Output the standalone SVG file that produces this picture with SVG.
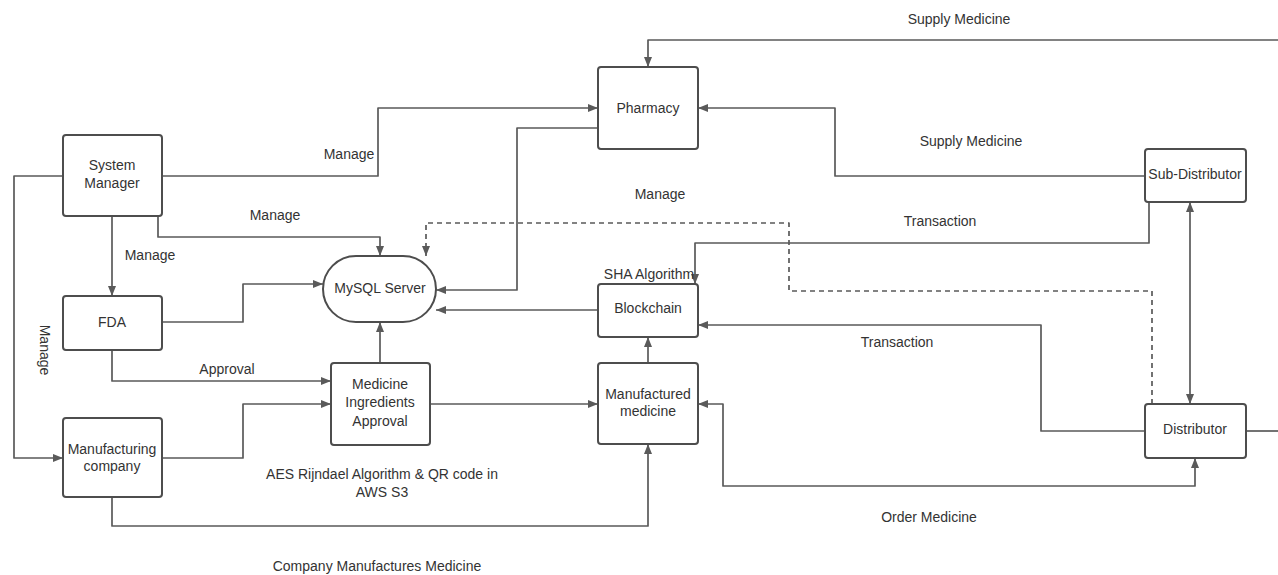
<svg xmlns="http://www.w3.org/2000/svg" width="1278" height="575" viewBox="0 0 1278 575">
<defs>
<style>
.node rect{fill:#fff;stroke:#4d4d4d;stroke-width:2}
text{font-family:"Liberation Sans",Arial,sans-serif;font-size:14px;fill:#333;text-anchor:middle}
.c path{fill:none;stroke:#5a5a5a;stroke-width:1.7;stroke-linejoin:round}
.c path.d{stroke-dasharray:5,4}
</style>
<marker id="a" viewBox="0 0 10 8" refX="10" refY="4" markerWidth="10" markerHeight="8" markerUnits="userSpaceOnUse" orient="auto-start-reverse">
<path d="M0,0 L10,4 L0,8 z" fill="#5a5a5a"/>
</marker>
</defs>
<rect width="1278" height="575" fill="#fff"/>
<g class="c" id="connectors">
<path d="M1278,40 H648 V67" marker-end="url(#a)"/>
<path d="M1145,176 H835 V108 H698" marker-end="url(#a)"/>
<path d="M162,176 H378 V108 H598" marker-end="url(#a)"/>
<path d="M598,128 H517 V290 H436" marker-end="url(#a)"/>
<path d="M598,310 H436" marker-end="url(#a)"/>
<path class="d" d="M1152,404 V291 H789 V223 H426 V256" marker-end="url(#a)"/>
<path d="M1149,202 V243 H695 V284" marker-end="url(#a)"/>
<path d="M1145,431 H1041 V325 H698" marker-end="url(#a)"/>
<path d="M1190,202 V404" marker-start="url(#a)" marker-end="url(#a)"/>
<path d="M1246,431 H1278"/>
<path d="M1195,458 V486 H723 V404 H698" marker-start="url(#a)" marker-end="url(#a)"/>
<path d="M648,363 V337" marker-end="url(#a)"/>
<path d="M430,404 H598" marker-end="url(#a)"/>
<path d="M380,363 V322" marker-end="url(#a)"/>
<path d="M162,322 H243 V284 H323" marker-end="url(#a)"/>
<path d="M158,216 V237 H380 V256" marker-end="url(#a)"/>
<path d="M112,216 V296" marker-end="url(#a)"/>
<path d="M63,176 H14 V458 H63" marker-end="url(#a)"/>
<path d="M112,350 V381 H331" marker-end="url(#a)"/>
<path d="M162,458 H243 V404 H331" marker-end="url(#a)"/>
<path d="M112,497 V526 H648 V444" marker-end="url(#a)"/>
</g>
<g id="labels">
<text x="959" y="24">Supply Medicine</text>
<text x="971" y="146">Supply Medicine</text>
<text x="349" y="159">Manage</text>
<text x="660" y="199">Manage</text>
<text x="275" y="220">Manage</text>
<text x="150" y="260">Manage</text>
<text x="940" y="226">Transaction</text>
<text x="897" y="347">Transaction</text>
<text x="649" y="279">SHA Algorithm</text>
<text x="227" y="374">Approval</text>
<text x="382" y="479">AES Rijndael Algorithm &amp; QR code in</text>
<text x="382" y="497">AWS S3</text>
<text x="929" y="522">Order Medicine</text>
<text x="377" y="571">Company Manufactures Medicine</text>
<text transform="translate(40,350) rotate(90)">Manage</text>
</g>
<g class="node" id="system-manager"><rect x="63" y="135" width="99" height="81" rx="3"/><text x="112" y="170">System</text><text x="112" y="188">Manager</text></g>
<g class="node" id="fda"><rect x="63" y="296" width="99" height="54" rx="3"/><text x="112" y="327">FDA</text></g>
<g class="node" id="manufacturing-company"><rect x="63" y="418" width="99" height="79" rx="3"/><text x="112" y="454">Manufacturing</text><text x="112" y="471">company</text></g>
<g class="node" id="mysql-server"><rect x="323" y="256" width="113" height="66" rx="33"/><text x="380" y="293">MySQL Server</text></g>
<g class="node" id="medicine-ingredients-approval"><rect x="331" y="363" width="99" height="82" rx="3"/><text x="380" y="389">Medicine</text><text x="380" y="407">Ingredients</text><text x="380" y="426">Approval</text></g>
<g class="node" id="pharmacy"><rect x="598" y="67" width="100" height="82" rx="3"/><text x="648" y="113">Pharmacy</text></g>
<g class="node" id="blockchain"><rect x="598" y="284" width="100" height="53" rx="3"/><text x="648" y="313">Blockchain</text></g>
<g class="node" id="manufactured-medicine"><rect x="598" y="363" width="100" height="81" rx="3"/><text x="648" y="399">Manufactured</text><text x="648" y="416">medicine</text></g>
<g class="node" id="sub-distributor"><rect x="1145" y="149" width="101" height="53" rx="3"/><text x="1195" y="179">Sub-Distributor</text></g>
<g class="node" id="distributor"><rect x="1145" y="404" width="101" height="54" rx="3"/><text x="1195" y="434">Distributor</text></g>
</svg>
